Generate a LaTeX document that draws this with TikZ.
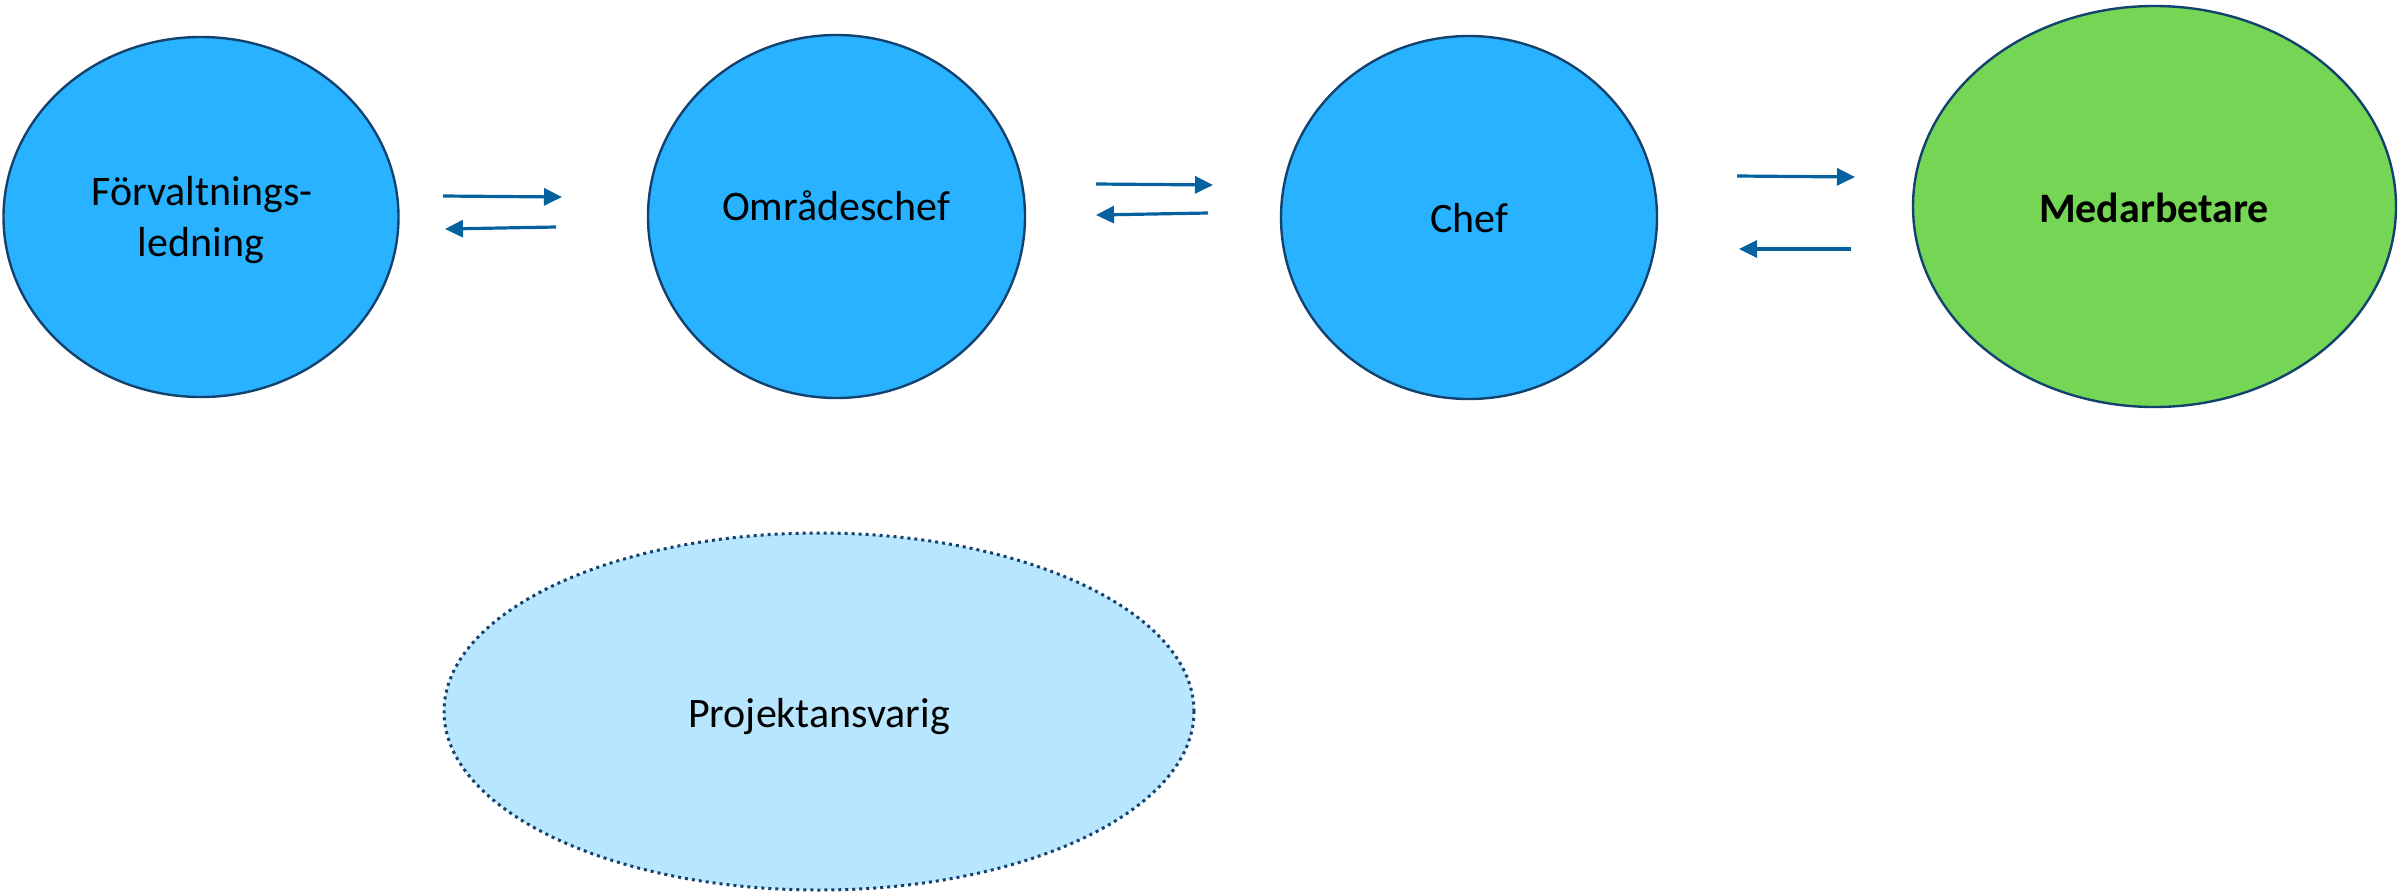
\documentclass[tikz,border=0pt]{standalone}
\usepackage{fontspec}
\setmainfont{Carlito}
\usetikzlibrary{shapes.geometric,arrows.meta}
\definecolor{bluefill}{RGB}{41,178,255}
\definecolor{greenfill}{RGB}{116,214,84}
\definecolor{lightfill}{RGB}{184,230,254}
\definecolor{edgeblue}{RGB}{20,66,110}
\definecolor{arrowblue}{RGB}{6,98,158}
\tikzset{
  bubble/.style={ellipse, draw=edgeblue, line width=1.2pt, inner sep=0pt, outer sep=0pt},
  label text/.style={font=\fontsize{21}{27}\selectfont, anchor=base, inner sep=0pt},
  flow/.style={draw=arrowblue, line width=1.6pt, -{Triangle[length=9pt,width=8.5pt]}}
}
\begin{document}
\begin{tikzpicture}[x=0.5pt,y=-0.5pt]
\useasboundingbox (0,0) rectangle (2407,895);
\node[bubble, fill=bluefill, minimum width=197.5pt, minimum height=180pt] (fl) at (201,217) {};
\node[bubble, fill=bluefill, minimum width=188.5pt, minimum height=181.5pt] (oc) at (836.5,216.5) {};
\node[bubble, fill=bluefill, minimum width=188pt, minimum height=181.5pt] (ch) at (1469,217.5) {};
\node[bubble, fill=greenfill, minimum width=241.5pt, minimum height=200.5pt] (md) at (2154.5,206.5) {};
\node[bubble, fill=lightfill, draw=edgeblue, line width=1.5pt, dash pattern=on 1.5pt off 2pt, minimum width=375pt, minimum height=178.5pt] (pa) at (819,711.5) {};
\node[label text] (fltxt1) at (202,205) {Förvaltnings-};
\node[label text] (fltxt2) at (201,256) {ledning};
\node[label text] (octxt) at (836,220) {Områdeschef};
\node[label text] (chtxt) at (1469,232) {Chef};
\node[label text, font=\fontsize{21}{27}\selectfont\bfseries] (mdtxt) at (2154,222) {Medarbetare};
\node[label text] (patxt) at (819,727) {Projektansvarig};
\coordinate (a1s) at (443,196);
\coordinate (a1e) at (562,197);
\coordinate (b1s) at (556,227);
\coordinate (b1e) at (445,229);
\coordinate (a2s) at (1096,184);
\coordinate (a2e) at (1213,185);
\coordinate (b2s) at (1208,213);
\coordinate (b2e) at (1096,215);
\coordinate (a3s) at (1737,176);
\coordinate (a3e) at (1855,177);
\coordinate (b3s) at (1851,249);
\coordinate (b3e) at (1739,249);
\draw[flow] (a1s) -- (a1e);
\draw[flow] (b1s) -- (b1e);
\draw[flow] (a2s) -- (a2e);
\draw[flow] (b2s) -- (b2e);
\draw[flow] (a3s) -- (a3e);
\draw[flow] (b3s) -- (b3e);
\end{tikzpicture}
\end{document}
